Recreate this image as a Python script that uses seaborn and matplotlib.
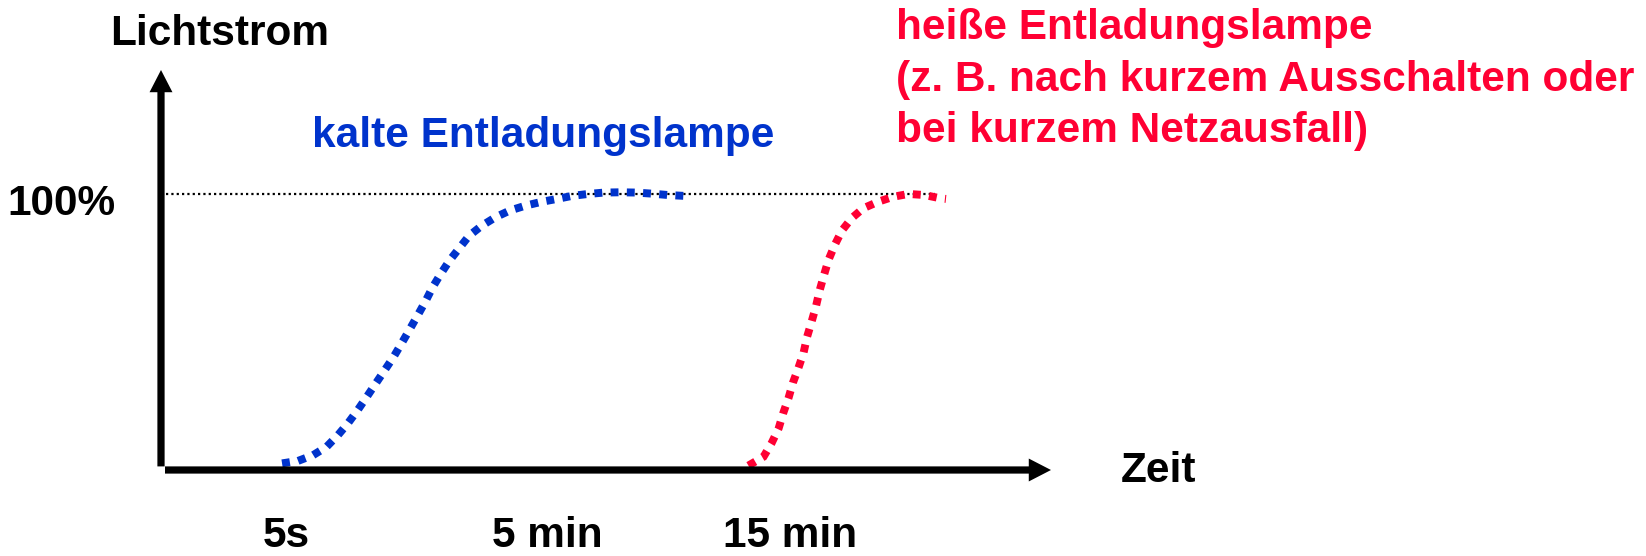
import matplotlib
matplotlib.use("Agg")
import matplotlib.pyplot as plt
import matplotlib.transforms as mtransforms
import seaborn as sns
import pandas as pd

# ---------------- data (schematic) ----------------
kalt_zeit = [13.6, 15.4, 17.1, 18.6, 19.9, 21.0, 22.1, 23.1, 24.1, 25.1, 26.1,
             27.0, 27.9, 28.8, 29.7, 30.5, 31.4, 32.4, 33.5, 34.6, 36.0, 37.6,
             39.2, 41.0, 42.7, 44.5, 46.2, 48.0, 49.8, 51.6, 53.4, 55.2, 57.0,
             58.8, 59.3]
kalt_lichtstrom = [2.4, 3.3, 5.4, 8.4, 12.7, 16.9, 21.7, 26.4, 31.2, 36.0, 40.8,
                   45.7, 50.7, 55.8, 61.0, 66.1, 70.9, 75.8, 80.3, 84.8, 88.4, 91.6,
                   94.0, 95.8, 97.1, 98.2, 99.3, 100.0, 100.5, 100.6, 100.5, 100.1, 99.6,
                   99.3, 99.2]

heiss_zeit = [66.0, 67.7, 68.6, 69.4, 69.9, 70.5, 71.0, 71.6, 72.2, 72.6, 73.1,
              73.6, 74.0, 74.5, 75.0, 75.7, 76.5, 77.6, 78.9, 80.6, 82.3, 84.0,
              85.8, 87.6, 88.2]
heiss_lichtstrom = [1.6, 4.8, 9.7, 15.1, 20.5, 26.0, 31.6, 36.8, 42.5, 48.3, 53.7,
                    59.4, 65.0, 70.7, 76.1, 81.5, 86.7, 91.2, 94.8, 97.2, 99.0, 100.0,
                    99.6, 98.4, 98.2]

referenz_zeit = [0.6, 87.0]
referenz_wert = [100, 100]

x_tick_pos = [14.1, 43.4, 70.7]
x_tick_labels = ["5s", "5 min", "15 min"]
y_tick_pos = [100]
y_tick_labels = ["100%"]

label_y = "Lichtstrom"
label_x = "Zeit"
label_kalt = "kalte Entladungslampe"
label_heiss = "heiße Entladungslampe\n(z. B. nach kurzem Ausschalten oder\nbei kurzem Netzausfall)"

BLUE = "#0033CC"
RED = "#FF0033"

# ---------------- figure ----------------
sns.set_style("white")
plt.rcParams["font.family"] = ["Liberation Sans", "DejaVu Sans"]
plt.rcParams["font.weight"] = "bold"

W, H = 1646, 556
fig = plt.figure(figsize=(W / 100, H / 100), dpi=100)
# axes: origin at (161, 470) px, x-arrow tip at 1051 px, y-arrow tip at 70 px
ax = fig.add_axes([161 / W, (H - 470) / H, (1051 - 161) / W, (470 - 70) / H])
ax.set_xlim(0, 100)
ax.set_ylim(0, 144.9)
for s in ax.spines.values():
    s.set_visible(False)
ax.grid(False)
ax.patch.set_alpha(0)

FS = 30.5

df_ref = pd.DataFrame({"t": referenz_zeit, "v": referenz_wert})
sns.lineplot(data=df_ref, x="t", y="v", ax=ax, color="black", linewidth=1.6,
             linestyle=(0, (1, 1.4)), sort=False, estimator=None)

df_k = pd.DataFrame({"t": kalt_zeit, "v": kalt_lichtstrom})
sns.lineplot(data=df_k, x="t", y="v", ax=ax, color=BLUE, linewidth=5.7,
             linestyle=(0, (1, 1.05)), sort=False, estimator=None,
             dash_capstyle="butt", dash_joinstyle="miter")
df_h = pd.DataFrame({"t": heiss_zeit, "v": heiss_lichtstrom})
sns.lineplot(data=df_h, x="t", y="v", ax=ax, color=RED, linewidth=5.7,
             linestyle=(0, (1, 1.05)), sort=False, estimator=None,
             dash_capstyle="butt", dash_joinstyle="miter")

# axis arrows
arrow = dict(arrowstyle="simple,head_length=16,head_width=16.5,tail_width=5.2",
             mutation_scale=1, fc="black", ec="none", lw=0,
             shrinkA=0, shrinkB=0)
ax.annotate("", xy=(100, 0), xytext=(0.45, 0), arrowprops=arrow,
            annotation_clip=False)
ax.annotate("", xy=(0, 144.9), xytext=(0, 1.3), arrowprops=arrow,
            annotation_clip=False)

# ticks
ax.set_xticks(x_tick_pos, x_tick_labels)
ax.set_yticks(y_tick_pos, y_tick_labels)
ax.tick_params(axis="both", length=0, labelsize=FS, colors="black")
ax.tick_params(axis="x", pad=55.5)
ax.tick_params(axis="y", pad=33)
ax.set_xlabel("")
ax.set_ylabel("")
for lab in ax.get_xticklabels():
    lab.set_fontweight("bold")
    lab.set_va("baseline")
ylab_shift = mtransforms.ScaledTranslation(0, -0.21, fig.dpi_scale_trans)
for lab in ax.get_yticklabels():
    lab.set_fontweight("bold")
    lab.set_va("baseline")
    lab.set_transform(lab.get_transform() + ylab_shift)

# texts
fig.text(110 / W, (H - 45) / H, label_y, fontsize=FS, fontweight="bold",
         ha="left", va="baseline", color="black")
fig.text(1121 / W, (H - 482) / H, label_x, fontsize=FS, fontweight="bold",
         ha="left", va="baseline", color="black")
fig.text(312 / W, (H - 147) / H, label_kalt, fontsize=FS, fontweight="bold",
         ha="left", va="baseline", color=BLUE)
fig.text(896 / W, (H - 142) / H, label_heiss, fontsize=FS, fontweight="bold",
         ha="left", va="baseline", color=RED, linespacing=1.37)

fig.savefig("out.png", dpi=100, facecolor="white")
